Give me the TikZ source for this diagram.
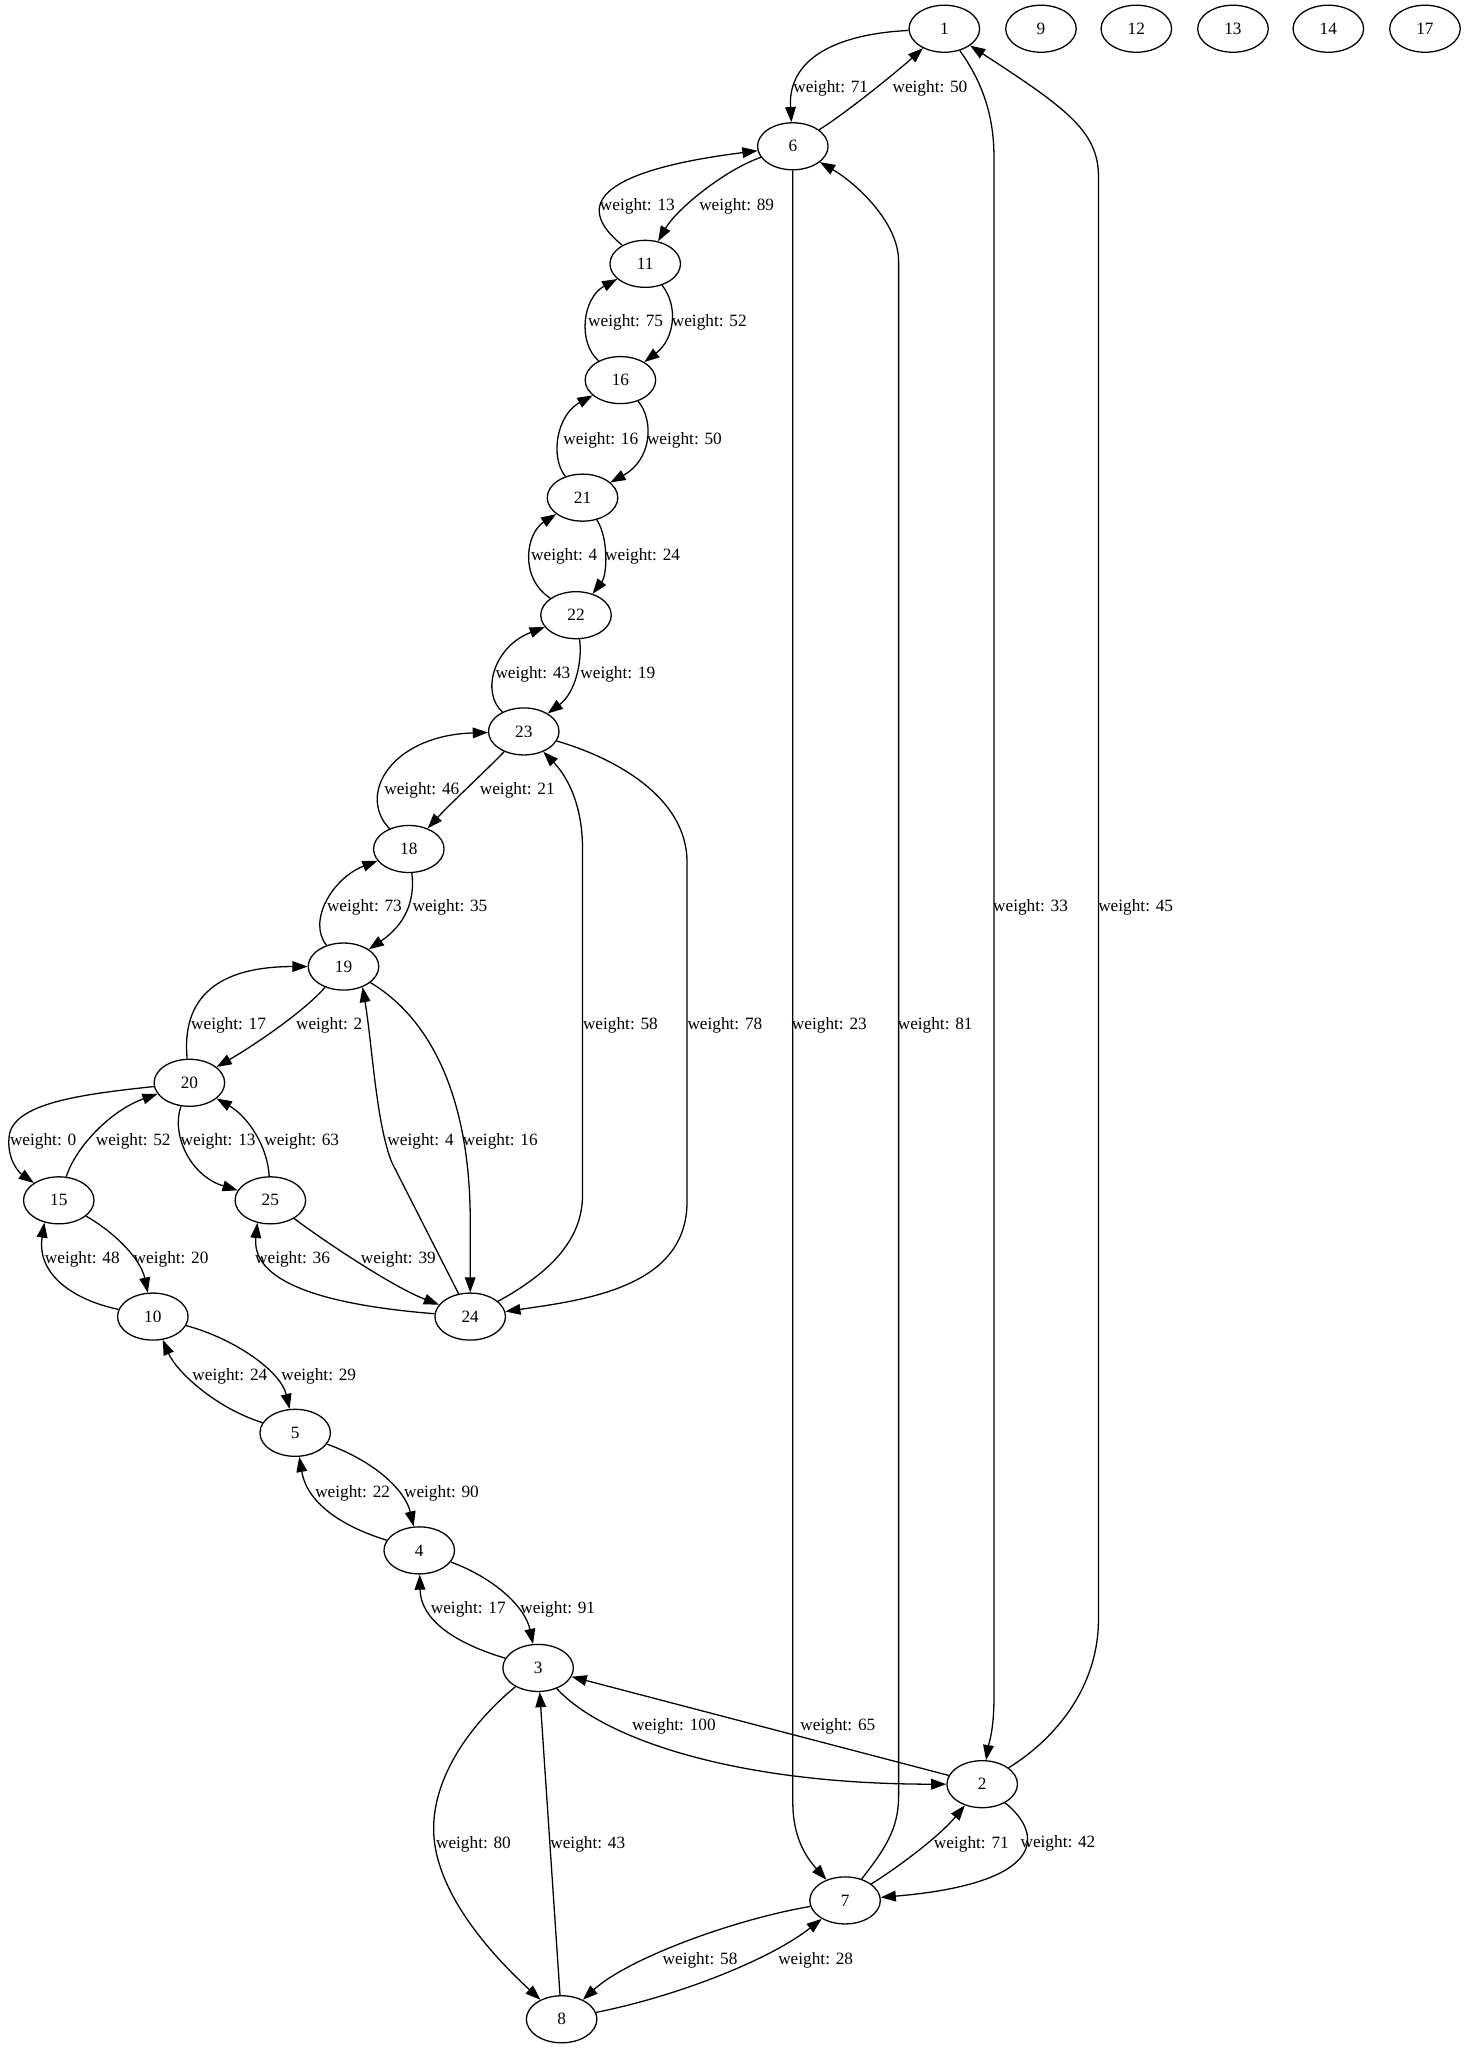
\documentclass[tikz,border=0pt]{standalone}
\usepackage{fontspec}
\setmainfont{Liberation Serif}
\usetikzlibrary{shapes.geometric,arrows.meta}

\begin{document}
\begin{tikzpicture}[x=0.025cm, y=-0.025cm,
    font=\fontsize{9.4}{11}\selectfont,
    vertex/.style={draw, ellipse, line width=0.7pt, minimum width=1.35cm, minimum height=0.9cm, inner sep=0pt},
    edge/.style={-{Triangle[length=2.9mm, width=2.05mm]}, line width=0.7pt},
    wlabel/.style={inner sep=0pt}]
    \useasboundingbox (0,0) rectangle (1123,1568);

    % Vertices
    \node[vertex] (n1) at (723,22) {1};
    \node[vertex] (n6) at (607,112) {6};
    \node[vertex] (n11) at (494,202) {11};
    \node[vertex] (n16) at (475,291) {16};
    \node[vertex] (n21) at (446,381) {21};
    \node[vertex] (n22) at (441,471) {22};
    \node[vertex] (n23) at (401,560) {23};
    \node[vertex] (n18) at (313,650) {18};
    \node[vertex] (n19) at (263,740) {19};
    \node[vertex] (n20) at (145,829) {20};
    \node[vertex] (n15) at (45,919) {15};
    \node[vertex] (n25) at (207,919) {25};
    \node[vertex] (n10) at (117,1008) {10};
    \node[vertex] (n24) at (360,1008) {24};
    \node[vertex] (n5) at (226,1097) {5};
    \node[vertex] (n4) at (321,1187) {4};
    \node[vertex] (n3) at (412,1277) {3};
    \node[vertex] (n2) at (752,1366) {2};
    \node[vertex] (n7) at (647,1455) {7};
    \node[vertex] (n8) at (430,1546) {8};

    % Isolated vertices
    \node[vertex] (n9) at (797,22) {9};
    \node[vertex] (n12) at (870,22) {12};
    \node[vertex] (n13) at (944,22) {13};
    \node[vertex] (n14) at (1017,22) {14};
    \node[vertex] (n17) at (1091,22) {17};

    % 1 and 6
    \draw[edge] (n1) .. controls (640,26) and (603,45) .. (n6);
    \node[wlabel] (w1-6) at (636,68) {weight: 71};
    \draw[edge] (n6) .. controls (650,85) and (690,52) .. (n1);
    \node[wlabel] (w6-1) at (712,68) {weight: 50};

    % 1 and 2
    \draw[edge] (n1) .. controls (750,60) and (761,85) .. (761,120) -- (761,1300) .. controls (761,1325) and (757,1335) .. (n2);
    \node[wlabel] (w1-2) at (789,695) {weight: 33};
    \draw[edge] (n2) .. controls (810,1330) and (841,1290) .. (841,1240) -- (841,135) .. controls (841,100) and (815,82) .. (n1);
    \node[wlabel] (w2-1) at (869.5,695) {weight: 45};

    % 6 and 11
    \draw[edge] (n6) .. controls (555,130) and (518,160) .. (n11);
    \node[wlabel] (w6-11) at (564,158) {weight: 89};
    \draw[edge] (n11) .. controls (430,150) and (480,128) .. (n6);
    \node[wlabel] (w11-6) at (488,158) {weight: 13};

    % 6 and 7
    \draw[edge] (n6) -- (607,1380) .. controls (607,1410) and (620,1425) .. (n7);
    \node[wlabel] (w6-7) at (635,785) {weight: 23};
    \draw[edge] (n7) .. controls (678,1415) and (688,1400) .. (688,1375) -- (688,200) .. controls (688,170) and (655,140) .. (n6);
    \node[wlabel] (w7-6) at (716,785) {weight: 81};

    % 11 and 16
    \draw[edge] (n11) .. controls (520,235) and (516,260) .. (n16);
    \node[wlabel] (w11-16) at (543,247) {weight: 52};
    \draw[edge] (n16) .. controls (442,262) and (446,228) .. (n11);
    \node[wlabel] (w16-11) at (479,247) {weight: 75};

    % 16 and 21
    \draw[edge] (n16) .. controls (501,322) and (499,352) .. (n21);
    \node[wlabel] (w16-21) at (524,337) {weight: 50};
    \draw[edge] (n21) .. controls (421,350) and (426,318) .. (n16);
    \node[wlabel] (w21-16) at (460,337) {weight: 16};

    % 21 and 22
    \draw[edge] (n21) .. controls (466,412) and (465,440) .. (n22);
    \node[wlabel] (w21-22) at (492,426) {weight: 24};
    \draw[edge] (n22) .. controls (397,442) and (403,408) .. (n21);
    \node[wlabel] (w22-21) at (432,426) {weight: 4};

    % 22 and 23
    \draw[edge] (n22) .. controls (446,505) and (441,530) .. (n23);
    \node[wlabel] (w22-23) at (473,516) {weight: 19};
    \draw[edge] (n23) .. controls (368,530) and (378,495) .. (n22);
    \node[wlabel] (w23-22) at (408,516) {weight: 43};

    % 23 and 18
    \draw[edge] (n23) .. controls (370,592) and (345,615) .. (n18);
    \node[wlabel] (w23-18) at (396,605) {weight: 21};
    \draw[edge] (n18) .. controls (273,608) and (300,563) .. (n23);
    \node[wlabel] (w18-23) at (323,605) {weight: 46};

    % 23 and 24
    \draw[edge] (n23) .. controls (470,580) and (526,610) .. (526,660) -- (526,920) .. controls (526,985) and (450,995) .. (n24);
    \node[wlabel] (w23-24) at (555,785) {weight: 78};
    \draw[edge] (n24) .. controls (420,975) and (446,950) .. (446,915) -- (446,650) .. controls (446,610) and (430,590) .. (n23);
    \node[wlabel] (w24-23) at (475,785) {weight: 58};

    % 18 and 19
    \draw[edge] (n18) .. controls (318,690) and (310,708) .. (n19);
    \node[wlabel] (w18-19) at (344.5,695) {weight: 35};
    \draw[edge] (n19) .. controls (235,705) and (255,672) .. (n18);
    \node[wlabel] (w19-18) at (279,695) {weight: 73};

    % 19 and 20
    \draw[edge] (n19) .. controls (232,775) and (195,800) .. (n20);
    \node[wlabel] (w19-20) at (252,785) {weight: 2};
    \draw[edge] (n20) .. controls (139,765) and (165,740) .. (n19);
    \node[wlabel] (w20-19) at (175,785) {weight: 17};

    % 19 and 24
    \draw[edge] (n19) .. controls (330,780) and (359,840) .. (360,930) -- (n24);
    \node[wlabel] (w19-24) at (383,874) {weight: 16};
    \draw[edge] (n24) -- (300,890) .. controls (288,860) and (285,800) .. (n19.-47);
    \node[wlabel] (w24-19) at (322,874) {weight: 4};

    % 20 and 15
    \draw[edge] (n20) .. controls (60,838) and (10,845) .. (7,870) .. controls (5,888) and (15,898) .. (n15);
    \node[wlabel] (w20-15) at (33,874) {weight: 0};
    \draw[edge] (n15) .. controls (58,878) and (85,850) .. (n20);
    \node[wlabel] (w15-20) at (102,874) {weight: 52};

    % 20 and 25
    \draw[edge] (n20) .. controls (131,868) and (145,900) .. (n25);
    \node[wlabel] (w20-25) at (167,874) {weight: 13};
    \draw[edge] (n25) .. controls (205,878) and (190,855) .. (n20);
    \node[wlabel] (w25-20) at (231,874) {weight: 63};

    % 25 and 24
    \draw[edge] (n25) .. controls (245,948) and (300,985) .. (n24);
    \node[wlabel] (w25-24) at (305,964) {weight: 39};
    \draw[edge] (n24) .. controls (260,1000) and (192,985) .. (n25.-120);
    \node[wlabel] (w24-25) at (224,964) {weight: 36};

    % 15 and 10
    \draw[edge] (n15) .. controls (90,945) and (108,965) .. (n10);
    \node[wlabel] (w15-10) at (131,964) {weight: 20};
    \draw[edge] (n10) .. controls (55,995) and (28,975) .. (n15.-123);
    \node[wlabel] (w10-15) at (63,964) {weight: 48};

    % 10 and 5
    \draw[edge] (n10) .. controls (180,1025) and (215,1050) .. (n5);
    \node[wlabel] (w10-5) at (244,1054) {weight: 29};
    \draw[edge] (n5) .. controls (165,1078) and (135,1050) .. (n10);
    \node[wlabel] (w5-10) at (176,1054) {weight: 24};

    % 5 and 4
    \draw[edge] (n5) .. controls (285,1118) and (310,1140) .. (n4);
    \node[wlabel] (w5-4) at (338,1143) {weight: 90};
    \draw[edge] (n4) .. controls (260,1168) and (235,1150) .. (n5);
    \node[wlabel] (w4-5) at (270,1143) {weight: 22};

    % 4 and 3
    \draw[edge] (n4) .. controls (378,1208) and (402,1230) .. (n3);
    \node[wlabel] (w4-3) at (427,1232.5) {weight: 91};
    \draw[edge] (n3) .. controls (348,1258) and (322,1240) .. (n4);
    \node[wlabel] (w3-4) at (358.5,1232.5) {weight: 17};

    % 3 and 2
    \draw[edge] (n3) .. controls (460,1330) and (560,1366) .. (n2);
    \node[wlabel] (w3-2) at (516,1322) {weight: 100};
    \draw[edge] (n2) -- (n3);
    \node[wlabel] (w2-3) at (641.5,1322) {weight: 65};

    % 3 and 8
    \draw[edge] (n3) .. controls (360,1320) and (332,1360) .. (332,1400) .. controls (332,1450) and (380,1500) .. (n8);
    \node[wlabel] (w3-8) at (362.5,1412) {weight: 80};
    \draw[edge] (n8) -- (n3);
    \node[wlabel] (w8-3) at (450,1412) {weight: 43};

    % 2 and 7
    \draw[edge] (n2) .. controls (800,1405) and (800,1442) .. (n7);
    \node[wlabel] (w2-7) at (810,1411) {weight: 42};
    \draw[edge] (n7) .. controls (690,1428) and (720,1405) .. (n2);
    \node[wlabel] (w7-2) at (743.7,1412) {weight: 71};

    % 7 and 8
    \draw[edge] (n7) .. controls (560,1470) and (480,1500) .. (n8);
    \node[wlabel] (w7-8) at (536,1501) {weight: 58};
    \draw[edge] (n8) .. controls (520,1528) and (590,1500) .. (n7);
    \node[wlabel] (w8-7) at (624.5,1501) {weight: 28};
\end{tikzpicture}
\end{document}
